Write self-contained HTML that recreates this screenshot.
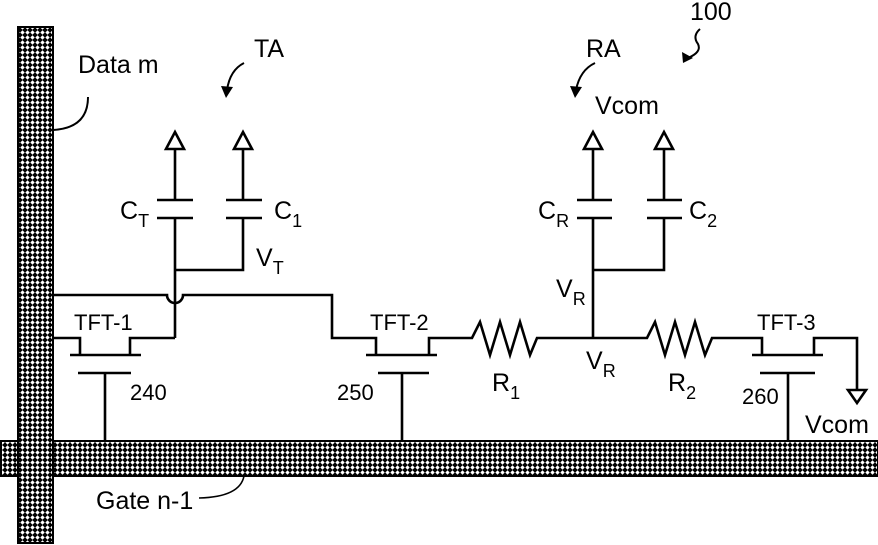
<!DOCTYPE html>
<html><head><style>html,body{margin:0;padding:0;background:#fff}svg{display:block}</style></head>
<body>
<svg width="878" height="545" viewBox="0 0 878 545" xmlns="http://www.w3.org/2000/svg" font-family="Liberation Sans, Arial, sans-serif" fill="none" stroke="#000" stroke-width="2.6">
<defs>
<pattern id="hatch" width="5" height="5" patternUnits="userSpaceOnUse">
<rect width="5" height="5" fill="#000" stroke="none"/>
<path d="M2.5 0.3 L4.7 2.5 L2.5 4.7 L0.3 2.5Z" fill="#fff" stroke="none"/>
</pattern>
</defs>
<!-- bars -->
<rect x="1" y="441" width="877" height="35" fill="url(#hatch)" stroke="#000" stroke-width="2"/>
<rect x="18" y="27" width="35" height="516" fill="url(#hatch)" stroke="#000" stroke-width="2"/>
<rect x="19" y="442" width="33" height="33" fill="url(#hatch)" stroke="none"/>

<!-- labels & pointers -->
<g fill="#000" stroke="none" font-size="25">
<text x="78" y="73">Data m</text>
<text x="254" y="57">TA</text>
<text x="586" y="57">RA</text>
<text x="595" y="114">Vcom</text>
<text x="690" y="20">100</text>
<text x="96" y="509">Gate n-1</text>
<text x="805" y="433">Vcom</text>
<text x="74" y="330" font-size="22">TFT-1</text>
<text x="370" y="330" font-size="22">TFT-2</text>
<text x="757" y="330" font-size="22">TFT-3</text>
<text x="130" y="400" font-size="22">240</text>
<text x="337" y="400" font-size="22">250</text>
<text x="742" y="404" font-size="22">260</text>
<text x="120" y="219">C<tspan font-size="18" dy="8">T</tspan></text>
<text x="274" y="219">C<tspan font-size="18" dy="8">1</tspan></text>
<text x="256" y="266">V<tspan font-size="18" dy="8">T</tspan></text>
<text x="538" y="219">C<tspan font-size="18" dy="8">R</tspan></text>
<text x="689" y="219">C<tspan font-size="18" dy="8">2</tspan></text>
<text x="556" y="297">V<tspan font-size="18" dy="8">R</tspan></text>
<text x="586" y="369">V<tspan font-size="18" dy="8">R</tspan></text>
<text x="492" y="391">R<tspan font-size="18" dy="8">1</tspan></text>
<text x="668" y="391">R<tspan font-size="18" dy="8">2</tspan></text>
</g>
<path d="M88 97 Q88 128 53 130" stroke-width="2"/>
<path d="M244 63 Q230 70 227 90" stroke-width="2"/>
<path d="M221 86 L226 98 L233 87Z" fill="#000" stroke="none"/>
<path d="M595 63 Q580 70 576 90" stroke-width="2"/>
<path d="M570 86 L575 98 L582 87Z" fill="#000" stroke="none"/>
<path d="M700 29 Q692 36 698 44 Q702 52 688 58" stroke-width="2"/>
<path d="M682 52 L683 63 L693 58Z" fill="#000" stroke="none"/>
<path d="M244 476 Q240 497 199 498" stroke-width="1.6"/>

<!-- TA capacitors -->
<path d="M175 149 V200 M157 200 H193 M157 218 H193 M175 218 V338"/>
<path d="M166 149 L175 132 L184 149Z" fill="#fff"/>
<path d="M243 149 V200 M226 200 H262 M226 218 H262 M243 218 V270 H175"/>
<path d="M234 149 L243 132 L252 149Z" fill="#fff"/>
<!-- wire with hop -->
<path d="M53 295 H167 A8 8 0 0 0 183 295 H332 V338 H376 V355"/>
<!-- TFT-1 -->
<path d="M53 338 H80 V355 M70 355 H141 M130 355 V338 H175 M78 373 H131 M105 373 V441"/>
<!-- TFT-2 -->
<path d="M366 355 H437 M429 355 V338 H472 L480 322 L490 355 L500 322 L510 355 L520 322 L530 355 L537 338 H647 L655 322 L665 355 L675 322 L685 355 L695 322 L705 355 L712 338 H762 V355 M378 373 H429 M402 373 V441"/>
<!-- RA -->
<path d="M593 338 V218 M577 200 H612 M577 218 H612 M593 200 V149"/>
<path d="M584 149 L593 132 L602 149Z" fill="#fff"/>
<path d="M664 149 V200 M647 200 H682 M647 218 H682 M664 218 V270 H593"/>
<path d="M655 149 L664 132 L673 149Z" fill="#fff"/>
<!-- TFT-3 -->
<path d="M752 355 H823 M814 355 V338 H857 V390 M760 373 H815 M788 373 V441"/>
<path d="M848 390 L857 403 L866 390Z" fill="#fff"/>
</svg>
</body></html>
